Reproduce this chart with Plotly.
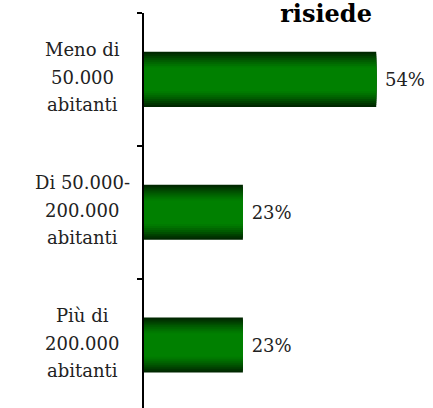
import math
import plotly.graph_objects as go

categories = ["Meno di\n50.000\nabitanti", "Di 50.000-\n200.000\nabitanti", "Più di\n200.000\nabitanti"]
values = [54, 23, 23]
title_text = "risiede"

FONT = "DejaVu Serif"
dark = (0, 40, 0)
light = (0, 128, 0)

fig = go.Figure()

N = 14
full_w = 0.415
for k in range(N):
    t = k / (N - 1)
    f = min(1.0, math.sin(t * math.pi / 2) * 1.25)
    col = tuple(int(round(dark[c] + (light[c] - dark[c]) * f)) for c in range(3))
    w = full_w * (1 - k / N)
    fig.add_trace(go.Bar(
        x=values, y=categories, orientation="h",
        width=w,
        marker=dict(color="rgb(%d,%d,%d)" % col, line=dict(width=0)),
        text=["\u00a0" + f"{v}%" for v in values] if k == 0 else None,
        textposition="outside" if k == 0 else "none",
        textfont=dict(family=FONT, size=18, color="#222"),
        cliponaxis=False,
        showlegend=False,
        hoverinfo="skip",
    ))

annotations = []
for i, cat in enumerate(categories):
    lines = cat.split("\n")
    n = len(lines)
    for j, line in enumerate(lines):
        annotations.append(dict(
            text=line, x=-0.2145, xref="paper", xanchor="center",
            y=cat, yref="y", yanchor="middle",
            yshift=((n - 1) / 2 - j) * 27.5 + 2,
            showarrow=False,
            font=dict(family=FONT, size=18, color="#222"),
        ))

fig.update_layout(
    width=433, height=408,
    margin=dict(l=144, r=0, t=13, b=0),
    barmode="overlay",
    plot_bgcolor="white", paper_bgcolor="white",
    title=dict(text="<b>" + title_text + "</b>", x=0.753, xanchor="center",
               y=1 - 14 / 408, yanchor="middle", yref="container",
               font=dict(family=FONT, size=24, color="black")),
    annotations=annotations,
    xaxis=dict(visible=False, range=[0, 67.2]),
    yaxis=dict(type="category", categoryorder="array", categoryarray=categories,
               range=[2.474, -0.5], showticklabels=False,
               showline=True, linecolor="black", linewidth=1.5,
               ticks="outside", tickson="boundaries", ticklen=5,
               tickcolor="black", tickwidth=1.5, showgrid=False, zeroline=False),
)

fig.write_html("out.html", config={"displayModeBar": False},
               post_script="document.body.style.margin='0';document.body.style.overflow='hidden';")
